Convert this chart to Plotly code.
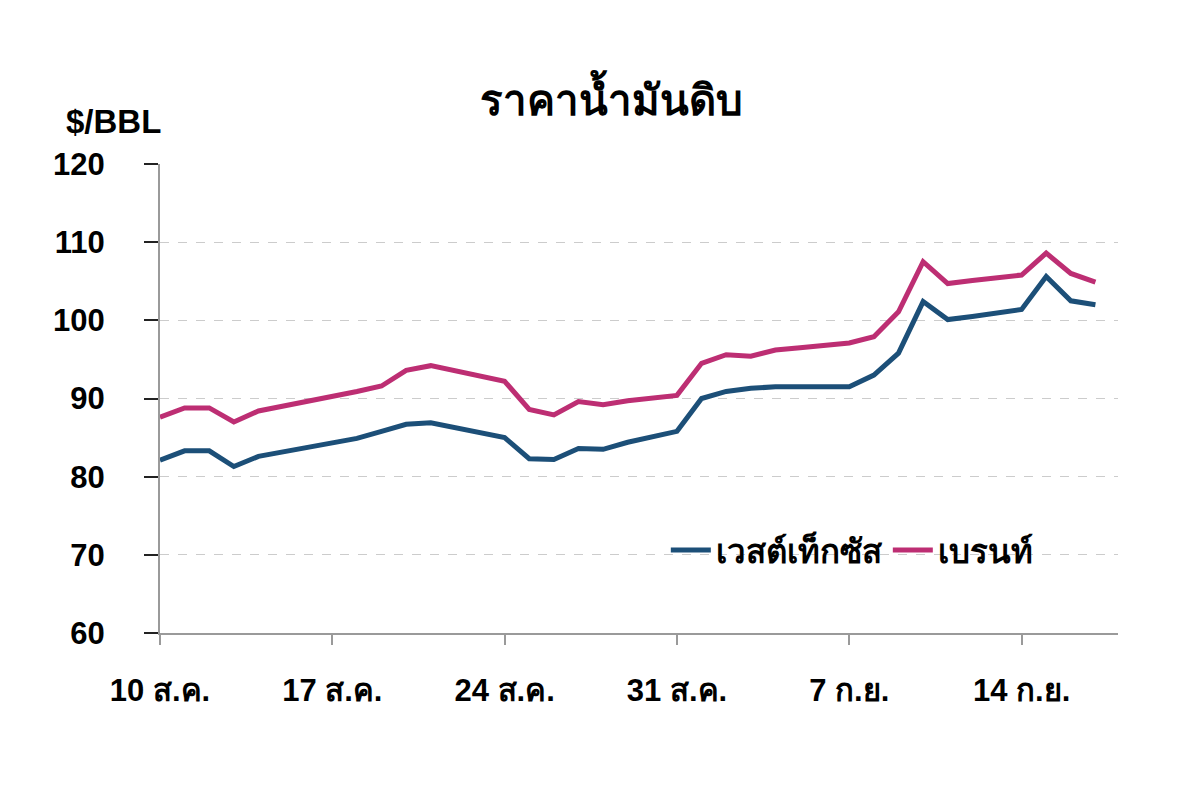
import pandas as pd
import plotly.graph_objects as go

# daily prices, 10 Aug - 17 Sep
dates = pd.date_range("2012-08-10", periods=39, freq="D")
wti = [82.1, 83.3, 83.3, 81.3, 82.6, 83.2, 83.8, 84.3, 84.9, 85.8,
       86.7, 86.9, 86.3, 85.6, 85.0, 82.3, 82.2, 83.6, 83.5, 84.4,
       85.1, 85.8, 90.0, 90.9, 91.3, 91.5, 91.5, 91.5, 91.5, 93.0,
       95.8, 102.4, 100.1, 100.5, 101.0, 101.4, 105.6, 102.5, 102.0]
brent = [87.6, 88.8, 88.8, 87.0, 88.4, 89.0, 89.7, 90.3, 90.9, 91.6,
         93.6, 94.2, 93.5, 92.9, 92.2, 88.6, 87.9, 89.6, 89.2, 89.7,
         90.1, 90.4, 94.5, 95.6, 95.4, 96.2, 96.5, 96.8, 97.1, 97.9,
         101.1, 107.5, 104.7, 105.1, 105.4, 105.8, 108.6, 106.0, 104.9]

tick_dates = ["2012-08-10", "2012-08-17", "2012-08-24", "2012-08-31", "2012-09-07", "2012-09-14"]
tick_labels = ["10 ส.ค.", "17 ส.ค.", "24 ส.ค.", "31 ส.ค.", "7 ก.ย.", "14 ก.ย."]
y_ticks = [60, 70, 80, 90, 100, 110, 120]

font = "Liberation Sans, Arial, sans-serif"

fig = go.Figure()
fig.add_trace(go.Scatter(x=dates, y=wti, mode="lines", name="เวสต์เท็กซัส",
                         line=dict(color="#1c4f78", width=5)))
fig.add_trace(go.Scatter(x=dates, y=brent, mode="lines", name="เบรนท์",
                         line=dict(color="#bd2e73", width=5)))

fig.update_layout(
    width=1200, height=810,
    paper_bgcolor="white", plot_bgcolor="white",
    margin=dict(l=152, r=90, t=156, b=185),
    font=dict(family=font, size=31, color="black", weight="bold"),
    title=dict(text="ราคาน้ำมันดิบ", x=0.503, xanchor="center", y=0.886, yanchor="middle",
               font=dict(size=42, weight="bold")),
    legend=dict(orientation="h", x=0.528, xanchor="left", y=0.177, yanchor="middle",
                bgcolor="rgba(0,0,0,0)", font=dict(size=33, weight="bold"),
                itemwidth=40, tracegroupgap=0),
    showlegend=True,
)

fig.update_xaxes(
    range=["2012-08-10", "2012-09-17 22:00"],
    tickvals=tick_dates, ticktext=tick_labels,
    showgrid=False, showline=True, linecolor="#9a9a9a", linewidth=2,
    ticks="outside", ticklen=10, tickwidth=2, tickcolor="#9a9a9a",
    tickfont=dict(size=31, weight="bold"), ticklabelstandoff=19,
    zeroline=False,
)
fig.update_yaxes(
    range=[60, 120], tickvals=y_ticks,
    showgrid=True, gridcolor="#cccccc", griddash="dash", gridwidth=1,
    showline=True, linecolor="#9a9a9a", linewidth=2,
    ticks="outside", ticklen=14, tickwidth=2, tickcolor="#222222",
    tickfont=dict(size=31, weight="bold"), ticklabelstandoff=33,
    zeroline=False,
)

fig.add_annotation(text="$/BBL", xref="paper", yref="paper", x=-0.1, y=1.09,
                   xanchor="left", yanchor="middle", showarrow=False,
                   font=dict(size=33, weight="bold"))

fig.write_html("out.html")
